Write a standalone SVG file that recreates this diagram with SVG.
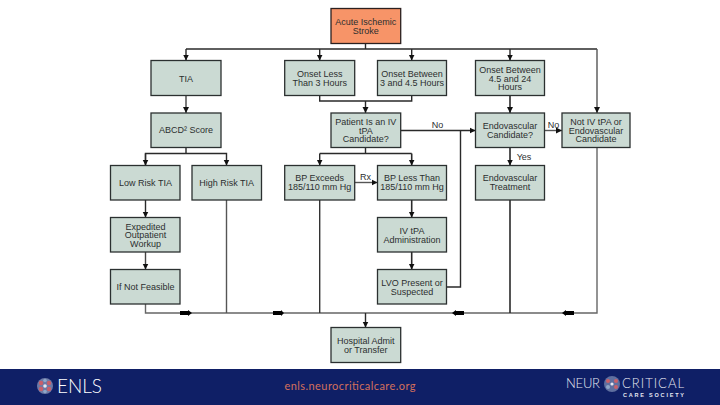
<svg xmlns="http://www.w3.org/2000/svg" width="720" height="405" viewBox="0 0 720 405">
<style>
.n{fill:#cbdad3;stroke:#2b3030;stroke-width:1.3}
.o{fill:#f79468;stroke:#2b2020;stroke-width:1.3}
text{font-family:"Liberation Sans",Arial,sans-serif}
.t{font-size:9px;fill:#2c2f2f;text-anchor:middle}
.c path{fill:none;stroke:#2a2a2a;stroke-width:1.4}
.h{fill:#000;stroke:none}
.a{marker-end:url(#ah)}
.d{fill:#c9606a}.e{fill:#8fa6c8}
.l{font-family:Lato,sans-serif;font-weight:300;fill:#e6e8f2}
</style>
<defs>
<marker id="ah" markerUnits="userSpaceOnUse" markerWidth="7" markerHeight="8" refX="6" refY="4" orient="auto"><path d="M0 1L6 4L0 7Z" fill="#111"/></marker>
</defs>
<rect width="720" height="405" fill="#fff"/>
<g id="connectors" class="c">
<path d="M365.5 43.5V49"/>
<path d="M186 49H597"/>
<path class="a" d="M186 49V60.5"/>
<path class="a" d="M319.7 49V60.5"/>
<path class="a" d="M411.7 49V60.5"/>
<path class="a" d="M510 49V60.5"/>
<path class="a" style="stroke:#555" d="M597 49V113"/>
<path class="a" style="stroke:#444" d="M186 95.5V113"/>
<path d="M319.7 95.5V101H411.7V95.5"/>
<path class="a" d="M365.5 101V113"/>
<path class="a" d="M510 95.5V113" style="stroke-width:1.6"/>
<path d="M186 147.5V153.5"/>
<path class="a" d="M145.5 165.5V153.5H226.5V165.5"/>
<path class="a" d="M145.5 153.5V165.5"/>
<path d="M319.7 153.5H411.7"/>
<path d="M365.5 147.5V153.5"/>
<path class="a" d="M319.7 153.5V165.5"/>
<path class="a" d="M411.7 153.5V165.5" style="stroke-width:1.6"/>
<path class="a" style="stroke:#555" d="M354.7 182.5H377.5"/>
<path class="a" d="M400.7 130.5H475.5"/>
<path d="M446.5 287H460.5V130.5"/>
<path class="a" style="stroke:#555" d="M544.5 130.5H562"/>
<path class="a" d="M510 147.5V165.5" style="stroke-width:1.6"/>
<path class="a" d="M145.5 200V217.5"/>
<path class="a" d="M145.5 252V269.5" style="stroke:#444"/>
<path class="a" d="M411.7 200V217.5" style="stroke-width:1.6"/>
<path class="a" d="M411.7 252V269.5" style="stroke-width:1.6"/>
<path d="M145.5 304V313H597V147.5" style="stroke:#666"/>
<path d="M226.5 200V313" style="stroke:#555"/>
<path d="M319.7 200V313" style="stroke:#333"/>
<path d="M510 200V313" style="stroke-width:1.6"/>
<path class="a" d="M365.5 313V327.5"/>
<polygon class="h" points="180,311 188,311 188,310 192,313 188,316 188,315 180,315"/>
<polygon class="h" points="273,311 281,311 281,310 284,313 281,316 281,315 273,315"/>
<polygon class="h" points="464,311 456,311 456,310 452,313 456,316 456,315 464,315"/>
<polygon class="h" points="574,311 566,311 566,310 562,313 566,316 566,315 574,315"/>
</g>
<g id="edge-labels">
<text class="t" x="437.5" y="128">No</text>
<text class="t" x="553.5" y="128">No</text>
<text class="t" x="524" y="160">Yes</text>
<text class="t" x="365.5" y="180">Rx</text>
</g>
<g id="stroke"><rect class="o" x="331" y="8.5" width="69.7" height="35"/><text class="t" x="365.8" y="25">Acute Ischemic</text><text class="t" x="365.8" y="33.5">Stroke</text></g>
<g id="tia"><rect class="n" x="151" y="60.5" width="70" height="35"/><text class="t" x="186" y="82">TIA</text></g>
<g id="onset3"><rect class="n" x="284.7" y="60.5" width="70" height="35"/><text class="t" x="319.7" y="77">Onset Less</text><text class="t" x="319.7" y="86">Than 3 Hours</text></g>
<g id="onset45"><rect class="n" x="377.5" y="60.5" width="69" height="35"/><text class="t" x="412" y="77">Onset Between</text><text class="t" x="412" y="86">3 and 4.5 Hours</text></g>
<g id="onset24"><rect class="n" x="475.5" y="60.5" width="69" height="35"/><text class="t" x="510" y="73">Onset Between</text><text class="t" x="510" y="81.5">4.5 and 24</text><text class="t" x="510" y="90">Hours</text></g>
<g id="abcd"><rect class="n" x="151" y="113" width="70" height="34.5"/><text class="t" x="186" y="132.5">ABCD² Score</text></g>
<g id="candidate"><rect class="n" x="331" y="113" width="69.7" height="34.5"/><text class="t" x="365.8" y="125">Patient Is an IV</text><text class="t" x="365.8" y="133.5">tPA</text><text class="t" x="365.8" y="142">Candidate?</text></g>
<g id="endocand"><rect class="n" x="475.5" y="113" width="69" height="34.5"/><text class="t" x="510" y="129">Endovascular</text><text class="t" x="510" y="138">Candidate?</text></g>
<g id="notcand"><rect class="n" x="562" y="113" width="68" height="34.5"/><text class="t" x="596" y="125">Not IV tPA or</text><text class="t" x="596" y="133.5">Endovascular</text><text class="t" x="596" y="142">Candidate</text></g>
<g id="low"><rect class="n" x="110.5" y="165.5" width="69.5" height="34.5"/><text class="t" x="145.5" y="186">Low Risk TIA</text></g>
<g id="high"><rect class="n" x="192" y="165.5" width="69.5" height="34.5"/><text class="t" x="226.7" y="186">High Risk TIA</text></g>
<g id="bpex"><rect class="n" x="284.7" y="165.5" width="70" height="34.5"/><text class="t" x="319.7" y="181">BP Exceeds</text><text class="t" x="319.7" y="190">185/110 mm Hg</text></g>
<g id="bpless"><rect class="n" x="377.5" y="165.5" width="69" height="34.5"/><text class="t" x="412" y="181">BP Less Than</text><text class="t" x="412" y="190">185/110 mm Hg</text></g>
<g id="endotreat"><rect class="n" x="475.5" y="165.5" width="69" height="34.5"/><text class="t" x="510" y="181">Endovascular</text><text class="t" x="510" y="190">Treatment</text></g>
<g id="workup"><rect class="n" x="110.5" y="217.5" width="69.5" height="34.5"/><text class="t" x="145.5" y="229.5">Expedited</text><text class="t" x="145.5" y="238">Outpatient</text><text class="t" x="145.5" y="246.5">Workup</text></g>
<g id="ivtpa"><rect class="n" x="377.5" y="217.5" width="69" height="34.5"/><text class="t" x="412" y="234">IV tPA</text><text class="t" x="412" y="242.5">Administration</text></g>
<g id="feasible"><rect class="n" x="110.5" y="269.5" width="69.5" height="34.5"/><text class="t" x="145.5" y="290">If Not Feasible</text></g>
<g id="lvo"><rect class="n" x="377.5" y="269.5" width="69" height="34.5"/><text class="t" x="412" y="286">LVO Present or</text><text class="t" x="412" y="294.5">Suspected</text></g>
<g id="hospital"><rect class="n" x="331" y="327.5" width="69.7" height="35"/><text class="t" x="365.8" y="344">Hospital Admit</text><text class="t" x="365.8" y="352.5">or Transfer</text></g>
<g id="footer">
<rect x="0" y="369" width="720" height="36" fill="#0f1f66"/>
<circle cx="45" cy="386" r="8" fill="#6d7aa6"/>
<circle class="d" cx="41" cy="383" r="2.2"/><circle class="d" cx="49" cy="383" r="2.2"/><circle class="d" cx="41" cy="389" r="2.2"/><circle class="d" cx="49" cy="389" r="2.2"/>
<circle class="e" cx="45" cy="380.5" r="1.8"/><circle class="e" cx="45" cy="391.5" r="1.8"/><circle fill="#e8e8f0" cx="45" cy="386" r="1.8"/>
<text x="57" y="393" font-size="20" fill="#fff" textLength="45" lengthAdjust="spacingAndGlyphs" style="font-family:Lato,sans-serif;font-weight:300">ENLS</text>
<text x="350" y="390" font-size="11" fill="#d4705c" text-anchor="middle" textLength="131" style="font-family:Lato,sans-serif">enls.neurocriticalcare.org</text>
<text class="l" x="566" y="388" font-size="13" textLength="34">NEUR</text>
<circle cx="612" cy="384" r="8" fill="#5f6f9f"/>
<circle class="d" cx="608" cy="381" r="2"/><circle class="d" cx="616" cy="381" r="2"/><circle class="e" cx="608" cy="387" r="2"/><circle class="d" cx="616" cy="387" r="2"/><circle fill="#e8e8f0" cx="612" cy="384" r="1.6"/>
<text class="l" x="622" y="388" font-size="13" textLength="62">CRITICAL</text>
<text x="623" y="397" font-size="5.5" font-weight="bold" fill="#e6e8f2" textLength="61">CARE SOCIETY</text>
</g>
</svg>
